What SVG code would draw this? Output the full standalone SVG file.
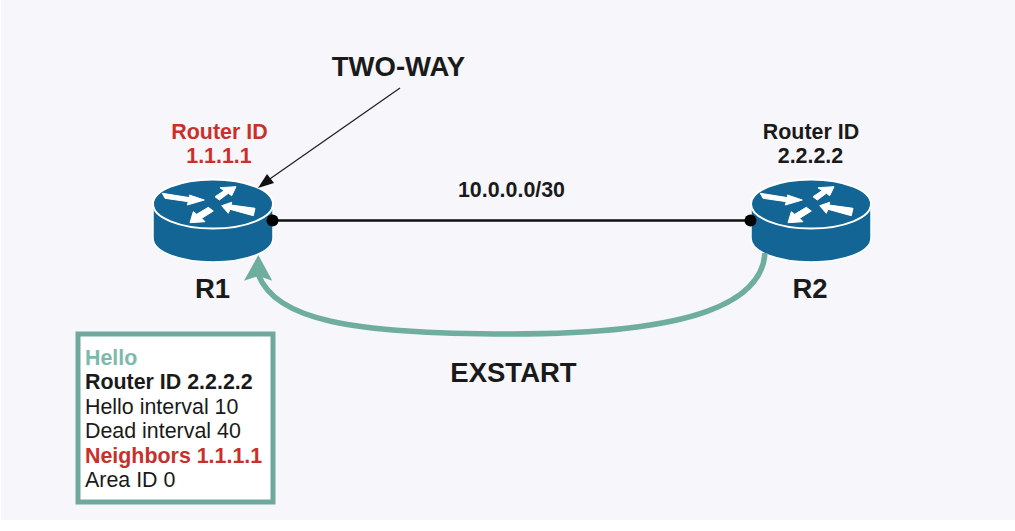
<svg xmlns="http://www.w3.org/2000/svg" width="1015" height="531" viewBox="0 0 1015 531">
<style>
text{font-family:"Liberation Sans",Arial,sans-serif;fill:#1a1a1a;text-anchor:middle}
.b{font-weight:700}
.l{font-size:21.400px;font-weight:700}
.big{font-size:27.500px;font-weight:700}
.r{fill:#c9302a}
.box{font-size:21.400px;text-anchor:start}
.body{fill:#126594;stroke:#fff;stroke-width:1.500}
.top{fill:#126594;stroke:#fff;stroke-width:2}
.ar{fill:#fff;stroke:#fff;stroke-width:1;stroke-linejoin:round}
</style>
<defs>
<symbol id="router" overflow="visible">
<path class="body" d="M-60 0V34C-60 48-33 58 0 58S60 48 60 34V0Z"/>
<ellipse class="top" cx="0" cy="0" rx="60" ry="24.500"/>
<polygon class="ar" points="-50.700,-10.700 -23,-6.300 -23.700,-9 -8.700,-4 -25.700,1 -24.700,-2.300 -48,-5.700"/>
<polygon class="ar" points="23,-17.300 7,-16.300 11,-13.300 2,-7.300 6.300,-4 15.300,-10.700 18.700,-8.300"/>
<polygon class="ar" points="8.700,1.700 18.700,-1.700 18,1 42,4.300 40.300,11.700 17,5.300 15.300,9.300"/>
<polygon class="ar" points="-23,18.700 -19.700,7.700 -16.300,10.300 -4.700,3.300 0.300,7 -11.300,14.300 -8,17.700"/>
</symbol>
</defs>
<rect width="1015" height="531" fill="#fff"/>
<rect x="1" width="1014" height="520" fill="#f7f7fb"/>
<g id="R1"><use href="#router" x="213" y="204"/>
<text class="l r" x="219.500" y="139">Router ID</text><text class="l r" x="219" y="163">1.1.1.1</text>
<text class="big" x="212.500" y="298">R1</text></g>
<g id="R2"><use href="#router" x="811" y="204"/>
<text class="l" x="811" y="139">Router ID</text><text class="l" x="810.500" y="163">2.2.2.2</text>
<text class="big" x="810" y="298">R2</text></g>
<g id="connectors">
<path d="M272 220.500H751" fill="none" stroke="#111" stroke-width="2.500"/>
<circle cx="272.500" cy="220.500" r="6" fill="#000"/>
<circle cx="750.500" cy="220.500" r="6" fill="#000"/>
<path d="M400 88L264 183" fill="none" stroke="#222" stroke-width="1.300"/>
<polygon points="258,188 267,174 274,183" fill="#111"/>
<path d="M765 253C762 300 700 334 510 334C350 334 276 320 258 274" fill="none" stroke="#6fae9f" stroke-width="5.500"/>
<polygon points="258.300,255 272.300,280.700 258.300,276 244,280.700" fill="#6fae9f"/>
</g>
<g id="labels">
<text class="big" x="398.500" y="76">TWO-WAY</text>
<text class="l" x="511.500" y="197">10.0.0.0/30</text>
<text class="big" x="513.500" y="382">EXSTART</text>
</g>
<g id="hello-box">
<rect x="78" y="334" width="195" height="168" fill="#fff" stroke="#6fa89c" stroke-width="5"/>
<text class="box b" x="85" y="365" style="fill:#7dbaad">Hello</text>
<text class="box b" x="85" y="389">Router ID 2.2.2.2</text>
<text class="box" x="85" y="414">Hello interval 10</text>
<text class="box" x="85" y="438">Dead interval 40</text>
<text class="box b r" x="85" y="463">Neighbors 1.1.1.1</text>
<text class="box" x="85" y="487">Area ID 0</text>
</g>
</svg>
